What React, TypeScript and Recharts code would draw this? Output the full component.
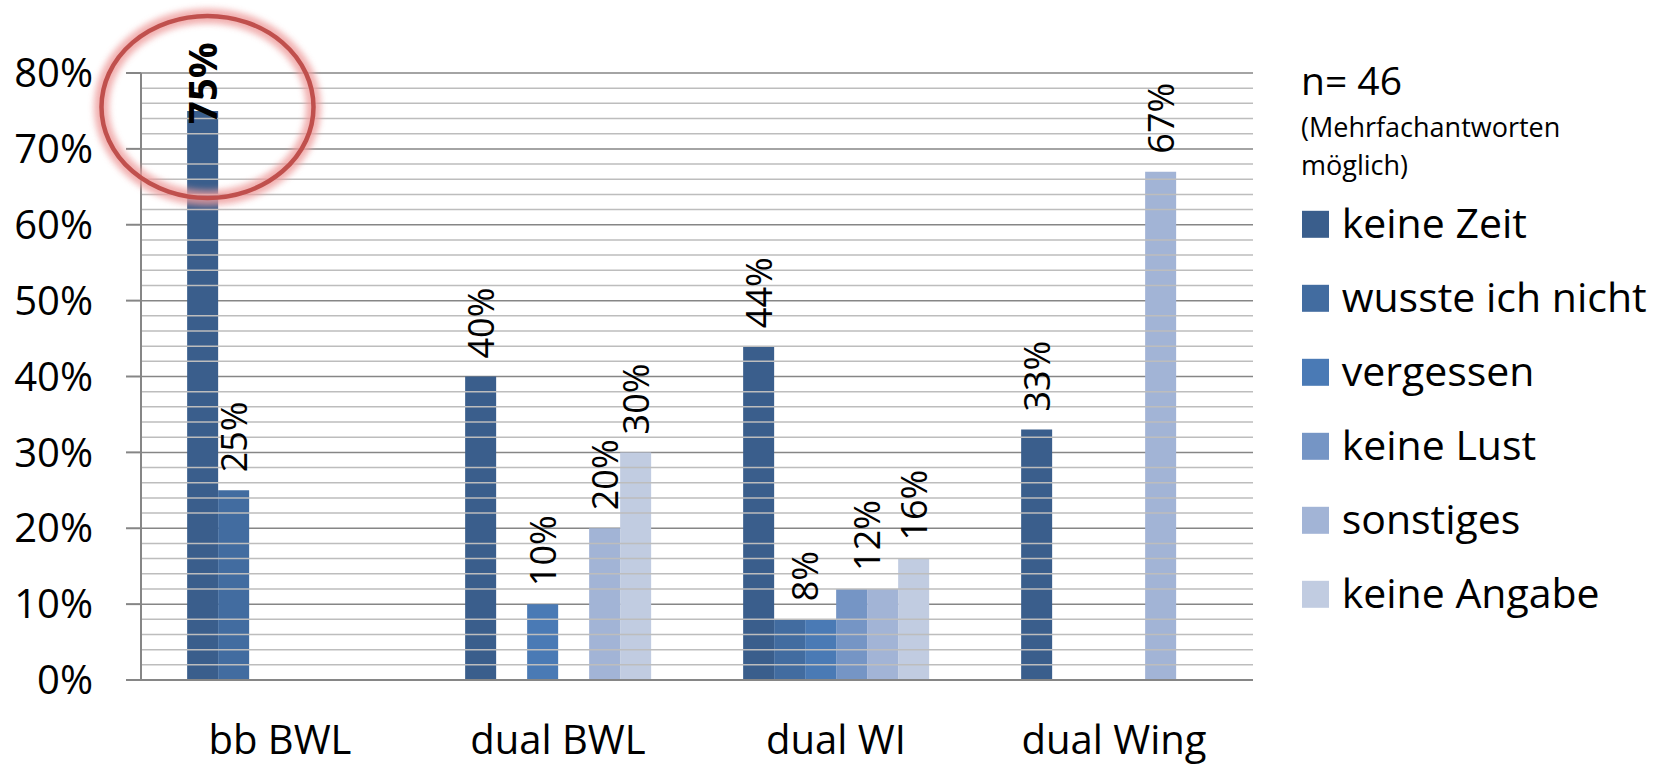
import React from 'react'
import {
  BarChart,
  Bar,
  XAxis,
  YAxis,
  CartesianGrid,
  ReferenceLine,
  ReferenceDot,
  LabelList,
} from 'recharts'

const categories = ['bb BWL', 'dual BWL', 'dual WI', 'dual Wing']

const keineZeit = [0.75, 0.4, 0.44, 0.33]
const wussteIchNicht = [0.25, 0, 0.08, 0]
const vergessen = [0, 0.1, 0.08, 0]
const keineLust = [0, 0, 0.12, 0]
const sonstiges = [0, 0.2, 0.12, 0.67]
const keineAngabe = [0, 0.3, 0.16, 0]

const seriesNames = ['keine Zeit', 'wusste ich nicht', 'vergessen', 'keine Lust', 'sonstiges', 'keine Angabe']
const seriesValues = [keineZeit, wussteIchNicht, vergessen, keineLust, sonstiges, keineAngabe]
const seriesColors = ['#3A5E8C', '#426CA0', '#4A7AB5', '#7595C5', '#A2B4D6', '#C1CCE1']

const yTicks = [0, 0.1, 0.2, 0.3, 0.4, 0.5, 0.6, 0.7, 0.8]
// light gridlines every 2 % between the major ticks
const minorTicks = yTicks.slice(0, -1).flatMap((t) => [0.02, 0.04, 0.06, 0.08].map((d) => +(t + d).toFixed(2)))

const sampleNote = 'n= 46'
const noteLines = ['(Mehrfachantworten', 'möglich)']

const highlight = { category: 'bb BWL', series: 'keine Zeit' }

const data = categories.map((category, i) => {
  const row: Record<string, string | number> = { category }
  seriesNames.forEach((name, s) => {
    row[name] = seriesValues[s][i]
  })
  return row
})

const FONT = '"Open Sans", "Noto Sans", sans-serif'

function makeLabel(s: number) {
  return (props: any) => {
    const vb = props.viewBox ?? {}
    const x = Number(props.x ?? vb.x)
    const y = Number(props.y ?? vb.y)
    const width = Number(props.width ?? vb.width)
    // the label value carries the category so we know which group we are in
    const index = categories.indexOf(String(props.value))
    if (index < 0) return null
    const value = seriesValues[s][index]
    if (!value) return null
    // equal neighbouring bars share one centred label
    if (s > 0 && seriesValues[s - 1][index] === value) return null
    const shared = s < seriesValues.length - 1 && seriesValues[s + 1][index] === value
    const cx = x + width / 2 + (shared ? width / 2 : 0)
    const isHi = categories[index] === highlight.category && seriesNames[s] === highlight.series
    const gap = isHi ? -13 : 18
    return (
      <text
        transform={`translate(${cx},${y - gap}) rotate(-90)`}
        dy="0.36em"
        textAnchor="start"
        fontSize={isHi ? 40 : 36}
        fontWeight={isHi ? 700 : 400}
        fill="#000"
      >
        {Math.round(value * 100)}%
      </text>
    )
  }
}

function XTick(props: any) {
  return (
    <text x={props.x} y={props.y + 74} textAnchor="middle" fontSize={40} fill="#000">
      {props.payload.value}
    </text>
  )
}

function Ring(props: any) {
  const cx = props.cx - 72.5
  const cy = props.cy - 4
  return (
    <g>
      <defs>
        <filter id="ringGlow" x="-30%" y="-30%" width="160%" height="160%">
          <feGaussianBlur stdDeviation="3" />
        </filter>
      </defs>
      <ellipse cx={cx} cy={cy} rx={106} ry={91} fill="none" stroke="#EE9C9C" strokeWidth={15} opacity={0.8} filter="url(#ringGlow)" />
      <ellipse cx={cx} cy={cy} rx={106} ry={91} fill="none" stroke="#C0504D" strokeWidth={4.5} />
    </g>
  )
}

function LegendBox() {
  const start = 224.3
  const step = 74
  return (
    <svg width={400} height={640} style={{ position: 'absolute', left: 1261, top: 0, fontFamily: FONT }}>
      <text x={40} y={95} fontSize={39} fill="#000">{sampleNote}</text>
      {noteLines.map((t, i) => (
        <text key={t} x={40} y={136.7 + i * 38.3} fontSize={27} fill="#000">{t}</text>
      ))}
      {seriesNames.map((name, i) => {
        const cy = start + i * step
        return (
          <g key={name}>
            <rect x={41} y={cy - 13.5} width={27} height={27} fill={seriesColors[i]} />
            <text x={80.7} y={cy + 14} fontSize={41} fill="#000">{name}</text>
          </g>
        )
      })}
    </svg>
  )
}

export default function App() {
  return (
    <div style={{ position: 'absolute', left: 0, top: 0, width: 1661, height: 765, background: '#fff', fontFamily: FONT }}>
      <BarChart
        width={1661}
        height={765}
        data={data}
        margin={{ top: 73, right: 408, left: 0, bottom: 0 }}
        barCategoryGap="16.6%"
        barGap={0}
      >
        <CartesianGrid vertical={false} stroke="#868686" strokeWidth={1.5} />
        {minorTicks.map((v) => (
          <ReferenceLine key={v} y={v} stroke="#BDBDBD" strokeWidth={1.5} />
        ))}
        <XAxis
          dataKey="category"
          height={85}
          tickLine={false}
          tickSize={0}
          tickMargin={0}
          axisLine={{ stroke: '#868686', strokeWidth: 2 }}
          tick={<XTick />}
          interval={0}
        />
        <YAxis
          width={141}
          domain={[0, 0.8]}
          ticks={yTicks}
          tickFormatter={(v: number) => `${Math.round(v * 100)}%`}
          tick={{ fontSize: 40, fill: '#000' }}
          tickSize={15}
          tickMargin={33}
          tickLine={{ stroke: '#868686', strokeWidth: 2 }}
          axisLine={{ stroke: '#868686', strokeWidth: 2 }}
          interval={0}
        />
        {seriesNames.map((name, s) => (
          <Bar key={name} dataKey={name} fill={seriesColors[s]} isAnimationActive={false}>
            <LabelList dataKey="category" content={makeLabel(s)} />
          </Bar>
        ))}
        <ReferenceDot x={highlight.category} y={0.75} ifOverflow="visible" shape={(p: any) => <Ring {...p} />} />
      </BarChart>
      <LegendBox />
    </div>
  )
}
